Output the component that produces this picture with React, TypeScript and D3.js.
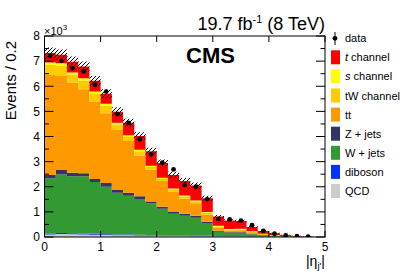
import React from "react";
import * as d3 from "d3";

// bins of 0.2 in |eta_j'| from 0 to 5 (values in thousands of events)
const binEdges = d3.range(0, 26).map((i) => i * 0.2);

const qcd = [0.10, 0.12, 0.11, 0.10, 0.09, 0.08, 0.07, 0.07, 0.06, 0.05, 0.05, 0.04, 0.04, 0.03, 0.03, 0.02, 0.02, 0.02, 0.01, 0.01, 0.005, 0.002, 0.001, 0, 0];
const diboson = [0.04, 0.04, 0.04, 0.04, 0.04, 0.03, 0.03, 0.03, 0.03, 0.02, 0.02, 0.02, 0.02, 0.02, 0.02, 0.01, 0.01, 0.01, 0.01, 0.005, 0.003, 0.002, 0.001, 0, 0];
const wjets = [2.19, 2.33, 2.27, 2.28, 2.06, 1.89, 1.66, 1.54, 1.42, 1.26, 1.05, 0.87, 0.79, 0.72, 0.51, 0.18, 0.13, 0.13, 0.09, 0.055, 0.032, 0.016, 0.008, 0.004, 0];
const zjets = [0.14, 0.18, 0.14, 0.12, 0.12, 0.15, 0.11, 0.12, 0.11, 0.08, 0.08, 0.07, 0.08, 0.08, 0.05, 0.04, 0.03, 0.03, 0.02, 0.01, 0.01, 0.005, 0.002, 0.001, 0];
const ttbar = [3.98, 3.74, 3.59, 3.34, 3.08, 2.78, 2.39, 2.06, 1.62, 1.27, 1.03, 0.81, 0.59, 0.49, 0.29, 0.13, 0.07, 0.08, 0.06, 0.03, 0.02, 0.01, 0.004, 0.002, 0];
const tw = [0.40, 0.41, 0.31, 0.35, 0.32, 0.29, 0.22, 0.16, 0.17, 0.11, 0.08, 0.08, 0.09, 0.07, 0.07, 0.04, 0.03, 0.03, 0.02, 0.01, 0.005, 0.002, 0.002, 0.001, 0];
const schan = [0.10, 0.10, 0.09, 0.09, 0.08, 0.08, 0.07, 0.07, 0.06, 0.05, 0.05, 0.04, 0.04, 0.04, 0.03, 0.03, 0.03, 0.03, 0.02, 0.01, 0.005, 0.003, 0.002, 0.001, 0];
const tchan = [0.37, 0.33, 0.43, 0.47, 0.43, 0.40, 0.44, 0.50, 0.55, 0.57, 0.59, 0.54, 0.58, 0.60, 0.54, 0.37, 0.34, 0.31, 0.17, 0.11, 0.07, 0.04, 0.02, 0.01, 0];
const mcUnc = [0.22, 0.21, 0.20, 0.20, 0.19, 0.18, 0.17, 0.16, 0.15, 0.14, 0.13, 0.13, 0.12, 0.12, 0.10, 0.06, 0.05, 0.05, 0.04, 0.03, 0.02, 0.01, 0.01, 0.005, 0];
const dataVals = [7.21, 7.01, 6.72, 6.59, 6.06, 5.79, 4.89, 4.54, 3.89, 3.29, 2.96, 2.69, 2.07, 2.00, 1.50, 0.72, 0.70, 0.65, 0.47, 0.24, 0.13, 0.06, 0.03, 0.01];

const xTicks = [0, 1, 2, 3, 4, 5];
const yTicks = [0, 1, 2, 3, 4, 5, 6, 7, 8];
const yMinorTicks = d3.range(0, 8.01, 0.5);

const layers = [
  { key: "qcd", label: "QCD", values: qcd, color: "#cccccc" },
  { key: "diboson", label: "diboson", values: diboson, color: "#0033ff" },
  { key: "wjets", label: "W + jets", values: wjets, color: "#339933" },
  { key: "zjets", label: "Z + jets", values: zjets, color: "#333366" },
  { key: "tt", label: "tt", values: ttbar, color: "#ff9900" },
  { key: "tw", label: "tW channel", values: tw, color: "#ffcc00" },
  { key: "s", label: "s channel", values: schan, color: "#ffff00" },
  { key: "t", label: "t channel", values: tchan, color: "#ff0000" },
];

const W = 407;
const H = 277;
const left = 44.5;
const right = 325;
const top = 36;
const bottom = 237;
const font = "'Liberation Sans', Arial, Helvetica, sans-serif";

export default function App() {
  const x = d3.scaleLinear().domain([0, 5]).range([left, right]);
  const y = d3.scaleLinear().domain([0, 8]).range([bottom, top]);
  const nb = binEdges.length - 1;

  // stacked cumulative values
  const cum: number[][] = [];
  let base = new Array(nb).fill(0);
  layers.forEach((l) => {
    const lo = base.slice();
    const hi = base.map((b, i) => b + l.values[i]);
    cum.push(lo, hi);
    base = hi;
  });
  const total = base;

  type P = { x: number; lo: number; hi: number };
  const stepPts = (lo: number[], hi: number[]): P[] => {
    const pts: P[] = [];
    for (let i = 0; i < nb; i++) {
      pts.push({ x: binEdges[i], lo: lo[i], hi: hi[i] });
      pts.push({ x: binEdges[i + 1], lo: lo[i], hi: hi[i] });
    }
    return pts;
  };
  const area = d3
    .area<P>()
    .x((d) => x(d.x))
    .y0((d) => y(d.lo))
    .y1((d) => y(d.hi));

  const legendItems = [
    { label: "t channel", color: "#ff0000", it: "t", rest: " channel" },
    { label: "s channel", color: "#ffff00", it: "s", rest: " channel" },
    { label: "tW channel", color: "#ffcc00" },
    { label: "tt", color: "#ff9900" },
    { label: "Z + jets", color: "#333366" },
    { label: "W + jets", color: "#339933" },
    { label: "diboson", color: "#0033ff" },
    { label: "QCD", color: "#cccccc" },
  ];

  return (
    <svg
      width={W}
      height={H}
      style={{ position: "absolute", left: 0, top: 0, background: "#fff" }}
      fontFamily={font}
    >
      <defs>
        <pattern id="hatch" patternUnits="userSpaceOnUse" width={4} height={4}>
          <path d="M-1,1 L1,-1 M0,4 L4,0 M3,5 L5,3" stroke="#000" strokeWidth={1} />
        </pattern>
        <clipPath id="plotclip">
          <rect x={left} y={top} width={right - left} height={bottom - top} />
        </clipPath>
      </defs>
      <rect x={0} y={0} width={W} height={H} fill="#fff" />

      <g clipPath="url(#plotclip)">
        {layers.map((l, k) => (
          <path key={l.key} d={area(stepPts(cum[2 * k], cum[2 * k + 1])) || ""} fill={l.color} />
        ))}
        {/* uncertainty band */}
        <path
          d={
            area(
              stepPts(
                total.map((t, i) => t - mcUnc[i]),
                total.map((t, i) => t + mcUnc[i])
              ).filter((p, j) => total[Math.floor(j / 2)] > 0.005)
            ) || ""
          }
          fill="url(#hatch)"
        />
        {/* data */}
        {dataVals.map((v, i) => {
          const cx = x((binEdges[i] + binEdges[i + 1]) / 2);
          const err = Math.sqrt(v * 1000) / 1000;
          return (
            <g key={i}>
              <line x1={cx} x2={cx} y1={y(v - err)} y2={y(v + err)} stroke="#000" strokeWidth={1} />
              <circle cx={cx} cy={y(v)} r={2.4} fill="#000" />
            </g>
          );
        })}
      </g>

      {/* frame */}
      <rect x={left} y={top} width={right - left} height={bottom - top} fill="none" stroke="#000" strokeWidth={1} />

      {/* y ticks */}
      {yMinorTicks.map((t) => {
        const major = Math.abs(t - Math.round(t)) < 1e-6;
        const len = major ? 9 : 4.5;
        return (
          <g key={"y" + t}>
            <line x1={left} x2={left + len} y1={y(t)} y2={y(t)} stroke="#000" strokeWidth={1} />
            <line x1={right} x2={right - len} y1={y(t)} y2={y(t)} stroke="#000" strokeWidth={1} />
          </g>
        );
      })}
      {yTicks.map((t) => (
        <text key={"yl" + t} x={40} y={y(t) + 4.3} textAnchor="end" fontSize={12}>
          {t}
        </text>
      ))}
      {/* x ticks */}
      {xTicks.map((t) => (
        <g key={"x" + t}>
          <line x1={x(t)} x2={x(t)} y1={bottom} y2={bottom - 6} stroke="#000" strokeWidth={1} />
          <line x1={x(t)} x2={x(t)} y1={top} y2={top + 6} stroke="#000" strokeWidth={1} />
          <text x={x(t)} y={251} textAnchor="middle" fontSize={12}>
            {t}
          </text>
        </g>
      ))}

      {/* exponent */}
      <text x={44} y={35} fontSize={11}>
        ×10
        <tspan dy={-5} fontSize={8}>
          3
        </tspan>
      </text>

      {/* y label */}
      <text transform="translate(16,41) rotate(-90)" textAnchor="end" fontSize={15}>
        Events / 0.2
      </text>

      {/* x label */}
      <text x={325} y={265.5} textAnchor="end" fontSize={14}>
        |η
        <tspan dy={3.5} fontSize={9.5}>
          j'
        </tspan>
        <tspan dy={-3.5} fontSize={14}>
          |
        </tspan>
      </text>

      {/* title */}
      <text x={325} y={30} textAnchor="end" fontSize={18}>
        19.7 fb
        <tspan dy={-7} fontSize={11}>
          -1
        </tspan>
        <tspan dy={7} fontSize={18}>
          {" "}(8 TeV)
        </tspan>
      </text>

      <text x={186} y={63} fontSize={22} fontWeight="bold">
        CMS
      </text>

      {/* legend */}
      <g>
        <line x1={335} x2={335} y1={32} y2={45} stroke="#000" strokeWidth={1} />
        <circle cx={335} cy={38.3} r={2.4} fill="#000" />
        <text x={345} y={42.3} fontSize={11}>
          data
        </text>
        {legendItems.map((it, i) => {
          const cy = 57.3 + i * 19.1;
          return (
            <g key={it.label}>
              <rect x={331} y={cy - 7} width={9} height={14} fill={it.color} />
              <text x={345} y={cy + 4} fontSize={11}>
                {it.it ? (
                  <>
                    <tspan fontStyle="italic">{it.it}</tspan>
                    {it.rest}
                  </>
                ) : (
                  it.label
                )}
              </text>
            </g>
          );
        })}
      </g>
    </svg>
  );
}
